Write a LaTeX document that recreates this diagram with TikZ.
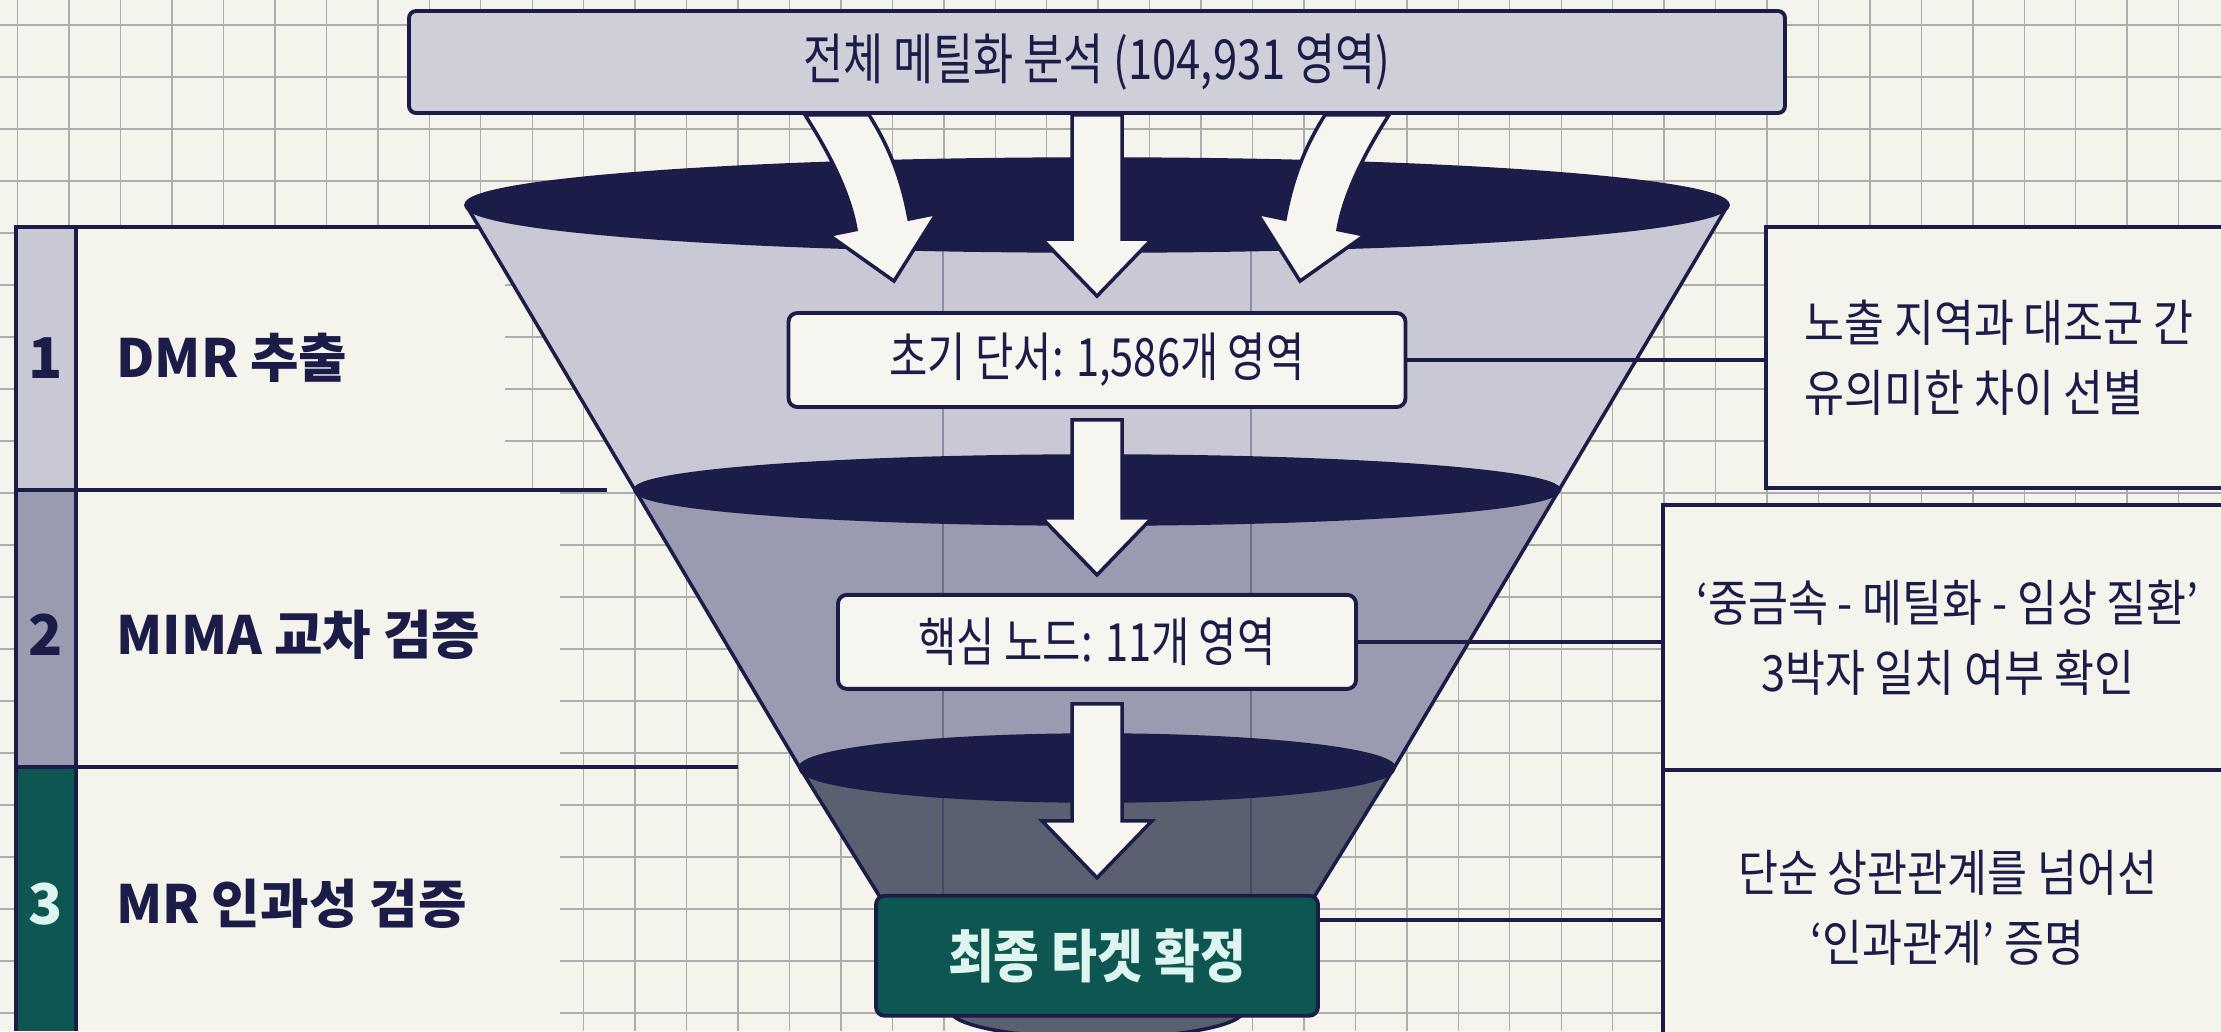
\documentclass[tikz,border=0pt]{standalone}
\usepackage{fontspec}
\setmainfont{Noto Sans CJK KR}
\newfontfamily\tightfont{Noto Sans CJK KR}[FakeStretch=0.79]
\newfontfamily\notefont{Noto Sans CJK KR}[FakeStretch=0.87]
\usepackage{tikz}
\usetikzlibrary{positioning,calc}
\usepackage{xcolor}

\definecolor{ink}{HTML}{1C1C48}
\definecolor{paper}{HTML}{F4F3EC}
\definecolor{boxwhite}{HTML}{F6F5F0}
\definecolor{gridgray}{HTML}{ADADAD}
\definecolor{topfill}{HTML}{CFCFDA}
\definecolor{tierone}{HTML}{C9C9D5}
\definecolor{tiertwo}{HTML}{9A9AB0}
\definecolor{tierthree}{HTML}{5A6070}
\definecolor{deepteal}{HTML}{0E5652}
\definecolor{mint}{HTML}{DDF5EE}

\newcommand{\fatdown}[2]{%
  \filldraw[fatarrow] ($(#1)+(-25,0)$) -- ($(#2)+(-25,-57)$) -- ($(#2)+(-55,-57)$) -- (#2)
    -- ($(#2)+(55,-57)$) -- ($(#2)+(25,-57)$) -- ($(#1)+(25,0)$) -- cycle;}
\newcommand{\bentarrow}[3]{%
  \filldraw[fatarrow] ($(#1)+(#3*-32,0)$) .. controls ($(#1)+(#3*-7,39)$) and ($(#2)+(#3*-44,-87)$) .. ($(#2)+(#3*-38,-51.5)$)
    -- ($(#2)+(#3*-65,-46)$) -- (#2) -- ($(#2)+(#3*42.5,-67.6)$) -- ($(#2)+(#3*15,-62)$)
    .. controls ($(#2)+(#3*8,-100)$) and ($(#1)+(#3*53,33)$) .. ($(#1)+(#3*32,0)$) -- cycle;}

\begin{document}
\begin{tikzpicture}[
    x=0.1mm, y=-0.1mm,
    gridline/.style={gridgray, line width=0.4pt},
    wallline/.style={ink, opacity=0.35, line width=0.5pt},
    rule/.style={ink, line width=1.1pt},
    shell/.style={draw=ink, line width=1pt, line join=round},
    fatarrow/.style={fill=boxwhite, draw=ink, line width=1pt, line join=miter},
    topbox/.style={draw=ink, line width=1.1pt, rounded corners=2pt, fill=topfill, text=ink, minimum width=137.6mm, minimum height=10.2mm, font=\tightfont\fontsize{15.7pt}{18pt}\selectfont},
    stagebox/.style={draw=ink, line width=1.1pt, rounded corners=2.5pt, fill=boxwhite, text=ink, minimum height=9.4mm, font=\tightfont\fontsize{15pt}{18pt}\selectfont},
    finalbox/.style={draw=ink, line width=1.1pt, rounded corners=2.5pt, fill=deepteal, text=mint, minimum width=44.2mm, minimum height=12mm, font=\notefont\bfseries\fontsize{16.3pt}{19pt}\selectfont},
    note/.style={draw=ink, line width=1.1pt, fill=paper, text=ink, font=\notefont\fontsize{14.2pt}{20pt}\selectfont},
    tierlabel/.style={anchor=west, text=ink, font=\bfseries\fontsize{15pt}{18pt}\selectfont},
    tiernum/.style={font=\bfseries\fontsize{16pt}{18pt}\selectfont},
    link/.style={ink, line width=1.1pt}
]
\useasboundingbox (0,0) rectangle (2221,1031);
\clip (0,0) rectangle (2221,1031);
\fill[paper] (0,0) rectangle (2221,1031);
\foreach \gx in {0,...,43} \draw[gridline] ({17.7+51.45*\gx},0) -- ({17.7+51.45*\gx},1031);
\foreach \gy in {0,...,19} \draw[gridline] (0,{25+52*\gy}) -- (2221,{25+52*\gy});

\fill[paper] (16,227) rectangle (505,490);
\fill[paper] (16,490) rectangle (560,1031);
\fill[tierone] (16,227) rectangle (76,490);
\fill[tiertwo] (16,490) rectangle (76,767);
\fill[deepteal] (16,767) rectangle (76,1031);
\draw[rule] (16,1031) -- (16,227) -- (480,227);
\draw[rule] (76,227) -- (76,1031);
\draw[rule] (16,490) -- (607,490);
\draw[rule] (16,767) -- (738,767);
\node[tiernum, text=ink] (k1) at (46,358) {1};
\node[tiernum, text=ink] (k2) at (46,635) {2};
\node[tiernum, text=mint] (k3) at (46,904) {3};
\node[tierlabel] (t1) at (104,358) {DMR 추출};
\node[tierlabel] (t2) at (104,635) {MIMA 교차 검증};
\node[tierlabel] (t3) at (104,904) {MR 인과성 검증};

\filldraw[shell, fill=tierone] (466,205) -- (635,490) -- (1559,490) -- (1728,205) -- cycle;
\filldraw[shell, fill=tiertwo] (635,490) -- (800,768) -- (1394,768) -- (1559,490) -- cycle;
\filldraw[shell, fill=tierthree] (800,768) -- (950,1010) arc[start angle=180, end angle=360, x radius=14.7mm, y radius=2.8mm] -- (1394,768) -- cycle;
\draw[wallline] (943,205) -- (943,1000);
\draw[wallline] (1251,205) -- (1251,1000);
\filldraw[shell, fill=ink] (1097,205) ellipse[x radius=63.1mm, y radius=4.6mm];
\filldraw[shell, fill=ink] (1097,490) ellipse[x radius=46.2mm, y radius=3.4mm];
\filldraw[shell, fill=ink] (1097,768) ellipse[x radius=29.7mm, y radius=3.3mm];

\node[topbox] (total) at (1097,62) {전체 메틸화 분석 (104,931 영역)};
\node[stagebox, minimum width=61.7mm] (b1) at (1097,360) {초기 단서: 1,586개 영역};
\node[stagebox, minimum width=51.8mm, below=18.4mm of b1] (b2) {핵심 노드: 11개 영역};
\node[finalbox, below=20.3mm of b2] (b3) {최종 타겟 확정};

\coordinate (inL) at ($(total.south)+(-260,0)$);
\coordinate (inR) at ($(total.south)+(260,0)$);
\coordinate (inLtip) at ($(b1.north)+(-203,-30)$);
\coordinate (inRtip) at ($(b1.north)+(203,-30)$);
\coordinate (inMtip) at ($(b1.north)+(0,-15)$);
\bentarrow{inL}{inLtip}{1}
\bentarrow{inR}{inRtip}{-1}
\fatdown{total.south}{inMtip}
\coordinate (s1) at ($(b1.south)+(0,11)$);
\coordinate (s1tip) at ($(b2.north)+(0,-18)$);
\fatdown{s1}{s1tip}
\coordinate (s2) at ($(b2.south)+(0,13)$);
\coordinate (s2tip) at ($(b3.north)+(0,-16)$);
\fatdown{s2}{s2tip}

\node[note, align=left, minimum width=46.6mm, minimum height=26.1mm] (n1) at (1999,357.5) {노출 지역과 대조군 간\\유의미한 차이 선별};
\node[note, align=center, minimum width=56.9mm, minimum height=26.5mm] (n2) at (1947.5,637.5) {‘중금속 - 메틸화 - 임상 질환’\\3박자 일치 여부 확인};
\node[note, align=center, minimum width=56.9mm, minimum height=27.5mm] (n3) at (1947.5,907.5) {단순 상관관계를 넘어선\\‘인과관계’ 증명};

\draw[link] (b1.east) -- (b1.east -| n1.west);
\draw[link] (b2.east) -- (b2.east -| n2.west);
\coordinate (b3out) at ([yshift=3.6mm]b3.east);
\draw[link] (b3out) -- (b3out -| n3.west);
\end{tikzpicture}
\end{document}
